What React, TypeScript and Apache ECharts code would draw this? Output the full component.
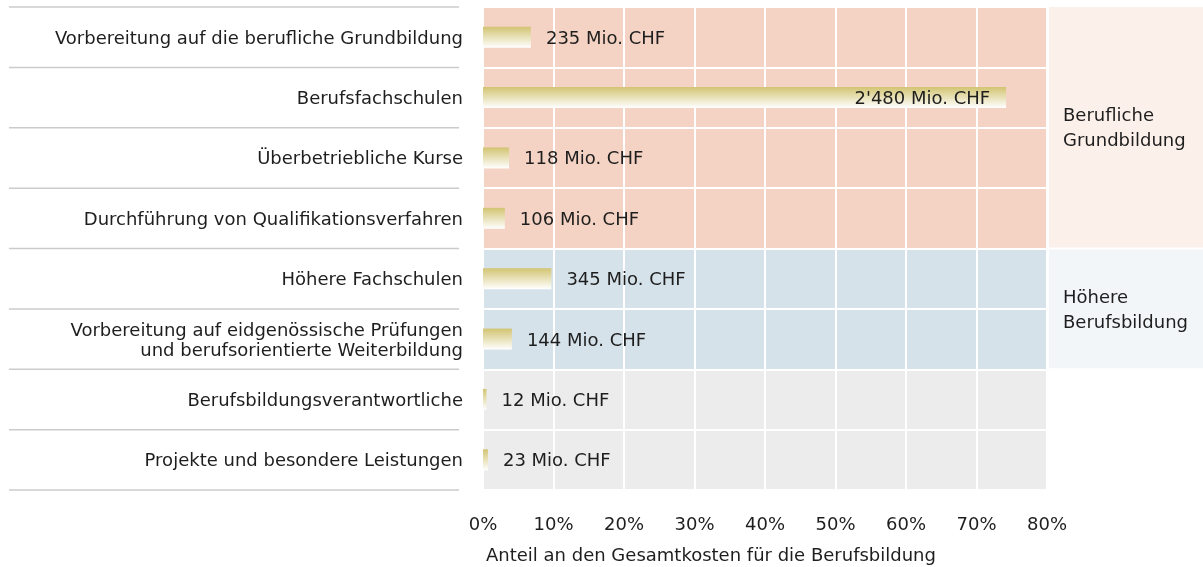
import React, { useEffect, useRef } from "react";
import * as echarts from "echarts";

const categories = [
  "Vorbereitung auf die berufliche Grundbildung",
  "Berufsfachschulen",
  "Überbetriebliche Kurse",
  "Durchführung von Qualifikationsverfahren",
  "Höhere Fachschulen",
  "Vorbereitung auf eidgenössische Prüfungen\nund berufsorientierte Weiterbildung",
  "Berufsbildungsverantwortliche",
  "Projekte und besondere Leistungen",
];
const amounts = [235, 2480, 118, 106, 345, 144, 12, 23];
const shares = [6.8, 74.2, 3.7, 3.1, 9.7, 4.1, 0.5, 0.7];
const rowGroup = [0, 0, 0, 0, 1, 1, 2, 2];
const groupLabels = ["Berufliche\nGrundbildung", "Höhere\nBerufsbildung"];
const groupRanges = [
  [0, 3],
  [4, 5],
];
const xMin = 0;
const xMax = 80;
const xInterval = 10;
const axisTitle = "Anteil an den Gesamtkosten für die Berufsbildung";

const FONT = "'DejaVu Sans', sans-serif";
const TEXT = "#1e1e1e";
const rowColors = ["#f5d3c4", "#d5e2ea", "#ebeceb"];
const sideColors = ["#fcf0eb", "#f2f6f9"];

const fmt = (v: number) =>
  String(v).replace(/\B(?=(\d{3})+(?!\d))/g, "'") + " Mio. CHF";

export default function App() {
  const ref = useRef<HTMLDivElement>(null);
  useEffect(() => {
    if (!ref.current) return;
    const chart = echarts.init(ref.current, null, { renderer: "svg" });
    const option: any = {
      animation: false,
      grid: { left: 483, right: 156, top: 7, bottom: 77, containLabel: false },
      xAxis: {
        type: "value",
        min: xMin,
        max: xMax,
        interval: xInterval,
        z: 3,
        axisLine: { show: false },
        axisTick: { show: false },
        splitLine: { show: true, lineStyle: { color: "#ffffff", width: 2 } },
        axisLabel: {
          formatter: "{value}%",
          fontSize: 18,
          fontFamily: FONT,
          color: TEXT,
          margin: 24,
        },
      },
      yAxis: {
        type: "category",
        data: categories,
        inverse: true,
        z: 3,
        axisLine: { show: false },
        axisTick: { show: false },
        splitLine: { show: true, lineStyle: { color: "#ffffff", width: 2 } },
        axisLabel: {
          fontSize: 18,
          fontFamily: FONT,
          color: TEXT,
          margin: 20,
          lineHeight: 20,
        },
      },
      graphic: [
        {
          type: "text",
          left: 486,
          top: 545,
          style: { text: axisTitle, fontSize: 18, fontFamily: FONT, fill: TEXT },
        },
      ],
      series: [
        {
          type: "custom",
          z: 1,
          clip: false,
          silent: true,
          data: categories.map((_, i) => [0, i]),
          renderItem: (params: any, api: any) => {
            const i = api.value(1);
            const p0 = api.coord([xMin, i]);
            const p1 = api.coord([xMax, i]);
            const h = api.size([0, 1])[1];
            const top = p0[1] - h / 2;
            const children: any[] = [
              {
                type: "rect",
                shape: { x: p0[0], y: top, width: p1[0] - p0[0], height: h },
                style: { fill: rowColors[rowGroup[i]] },
              },
              {
                type: "line",
                shape: { x1: p0[0] - 474, y1: top, x2: p0[0] - 24, y2: top },
                style: { stroke: "#cbcbcb", lineWidth: 1.5 },
              },
            ];
            if (i === categories.length - 1) {
              children.push({
                type: "line",
                shape: { x1: p0[0] - 474, y1: top + h, x2: p0[0] - 24, y2: top + h },
                style: { stroke: "#cbcbcb", lineWidth: 1.5 },
              });
            }
            return { type: "group", children };
          },
        },
        {
          type: "custom",
          z: 1,
          clip: false,
          silent: true,
          data: groupRanges.map((r, g) => [r[0], r[1], g]),
          renderItem: (params: any, api: any) => {
            const s = api.value(0);
            const e = api.value(1);
            const g = api.value(2);
            const pT = api.coord([xMax, s]);
            const pB = api.coord([xMax, e]);
            const h = api.size([0, 1])[1];
            const top = pT[1] - h / 2 + (s > 0 ? 1 : 0);
            const bottom = pB[1] + h / 2 - 1;
            const x = pT[0] + 2;
            return {
              type: "group",
              children: [
                {
                  type: "rect",
                  shape: { x, y: top, width: api.getWidth() - x, height: bottom - top },
                  style: { fill: sideColors[g] },
                },
                {
                  type: "text",
                  style: {
                    text: groupLabels[g],
                    x: pT[0] + 16,
                    y: (top + bottom) / 2,
                    fontSize: 18,
                    fontFamily: FONT,
                    lineHeight: 25,
                    fill: TEXT,
                    align: "left",
                    verticalAlign: "middle",
                  },
                },
              ],
            };
          },
        },
        {
          type: "bar",
          z: 5,
          barWidth: 21,
          data: shares.map((v) => ({
            value: v,
            label: {
              show: true,
              position: v > 50 ? "insideRight" : "right",
              distance: v > 50 ? 16 : 15,
            },
          })),
          itemStyle: {
            color: new echarts.graphic.LinearGradient(0, 0, 0, 1, [
              { offset: 0, color: "#d2c472" },
              { offset: 1, color: "#ffffff" },
            ]),
          },
          label: {
            show: true,
            fontSize: 18,
            fontFamily: FONT,
            color: TEXT,
            formatter: (p: any) => fmt(amounts[p.dataIndex]),
          },
        },
      ],
    };
    chart.setOption(option);
    return () => chart.dispose();
  }, []);
  return (
    <div
      ref={ref}
      style={{ position: "fixed", left: 0, top: 0, width: 1203, height: 567 }}
    />
  );
}
